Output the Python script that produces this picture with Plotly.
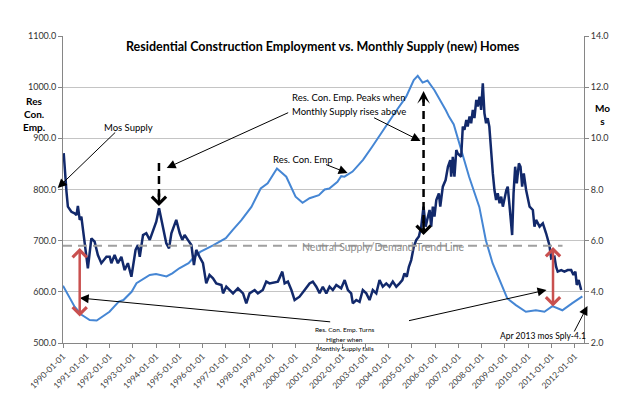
import plotly.graph_objects as go
import pandas as pd

# ---------------- data ----------------
emp_years = [1990.0, 1990.5, 1990.8, 1991.15, 1991.45, 1991.66, 1992.0, 1992.4, 1992.6, 1992.95,
             1993.16, 1993.73, 1994.0, 1994.45, 1994.7, 1995.0, 1995.4, 1995.6, 1995.9, 1996.45,
             1997.0, 1997.3, 1997.67, 1998.1, 1998.5, 1998.8, 1999.2, 1999.6, 2000.0, 2000.3,
             2000.6, 2001.0, 2001.25, 2001.45, 2001.8, 2001.96, 2002.1, 2002.45, 2002.9, 2003.3,
             2003.9, 2004.3, 2004.75, 2005.08, 2005.25, 2005.46, 2005.67, 2005.97, 2006.46, 2006.6,
             2006.8, 2007.0, 2007.46, 2007.9, 2008.18, 2008.47, 2008.76, 2009.1, 2009.47, 2009.9,
             2010.33, 2010.7, 2011.04, 2011.47, 2011.9, 2012.33]
emp_values = [612, 571, 555, 545, 544, 551, 561, 581, 584, 600,
              617, 633, 635, 630, 636, 646, 656, 666, 678, 691,
              705, 721, 740, 766, 802, 812, 841, 825, 786, 774,
              783, 789, 800, 802, 815, 826, 825, 835, 858, 884,
              926, 952, 981, 1014, 1022, 1009, 1013, 994, 955, 942,
              927, 897, 825, 766, 701, 656, 623, 587, 574, 561,
              564, 561, 572, 564, 578, 591]

mos_years = [1990.03, 1990.07, 1990.15, 1990.21, 1990.36, 1990.50, 1990.58, 1990.64, 1990.72, 1990.79,
             1990.93, 1991.07, 1991.22, 1991.36, 1991.50, 1991.65, 1991.87, 1992.01, 1992.08, 1992.22,
             1992.36, 1992.51, 1992.65, 1992.79, 1992.94, 1993.04, 1993.12, 1993.22, 1993.30, 1993.44,
             1993.58, 1993.73, 1993.87, 1994.01, 1994.13, 1994.30, 1994.44, 1994.56, 1994.66, 1994.87,
             1995.02, 1995.13, 1995.23, 1995.37, 1995.52, 1995.63, 1995.73, 1995.87, 1996.02, 1996.16,
             1996.30, 1996.45, 1996.59, 1996.81, 1996.88, 1997.02, 1997.16, 1997.31, 1997.52, 1997.74,
             1997.88, 1998.02, 1998.24, 1998.38, 1998.59, 1998.74, 1998.88, 1999.24, 1999.43, 1999.53,
             1999.67, 1999.82, 1999.96, 2000.17, 2000.39, 2000.60, 2000.74, 2000.89, 2001.03, 2001.17,
             2001.32, 2001.46, 2001.60, 2001.75, 2001.96, 2002.11, 2002.25, 2002.39, 2002.46, 2002.61,
             2002.75, 2002.89, 2003.04, 2003.18, 2003.32, 2003.47, 2003.61, 2003.75, 2003.90, 2004.04,
             2004.18, 2004.33, 2004.47, 2004.59, 2004.68, 2004.78, 2004.87, 2004.97, 2005.08, 2005.19,
             2005.30, 2005.40, 2005.50, 2005.59, 2005.69, 2005.76, 2005.83, 2005.90, 2005.97, 2006.05,
             2006.16, 2006.22, 2006.33, 2006.45, 2006.55, 2006.65, 2006.69, 2006.76, 2006.83, 2006.91,
             2006.97, 2007.12, 2007.19, 2007.26, 2007.34, 2007.40, 2007.48, 2007.55, 2007.62, 2007.69,
             2007.77, 2007.83, 2007.91, 2007.98, 2008.05, 2008.12, 2008.19, 2008.26, 2008.33, 2008.40,
             2008.48, 2008.55, 2008.62, 2008.69, 2008.77, 2008.84, 2008.91, 2009.06, 2009.12, 2009.20,
             2009.31, 2009.37, 2009.44, 2009.51, 2009.60, 2009.67, 2009.74, 2009.81, 2009.91, 2010.06,
             2010.20, 2010.27, 2010.34, 2010.49, 2010.63, 2010.77, 2010.91, 2010.99, 2011.13, 2011.20,
             2011.27, 2011.42, 2011.56, 2011.70, 2011.85, 2011.95, 2012.03, 2012.09, 2012.17, 2012.28]
mos_values = [9.42, 8.76, 7.91, 7.33, 7.13, 7.07, 7.00, 7.36, 6.81, 6.94,
              5.96, 4.92, 6.09, 5.96, 5.44, 5.12, 5.37, 5.37, 5.12, 5.44,
              5.12, 5.37, 4.85, 5.12, 4.59, 5.18, 5.64, 5.83, 5.37, 6.22,
              6.29, 6.03, 6.42, 6.74, 7.27, 6.55, 5.90, 5.70, 6.29, 6.81,
              6.29, 6.03, 6.22, 6.03, 5.83, 5.05, 5.64, 5.37, 5.12, 4.33,
              4.66, 4.53, 4.33, 4.27, 3.94, 4.20, 4.07, 3.94, 4.14, 3.94,
              3.55, 3.94, 4.07, 3.94, 4.07, 4.40, 4.33, 4.40, 4.79, 4.33,
              4.40, 4.07, 3.68, 3.81, 4.07, 4.33, 4.40, 4.20, 3.95, 4.20,
              3.94, 4.20, 4.07, 4.27, 4.14, 4.46, 4.07, 3.94, 3.55, 3.68,
              3.61, 4.07, 3.94, 3.68, 4.07, 3.94, 4.46, 4.20, 4.33, 4.20,
              4.40, 4.20, 4.33, 4.46, 4.72, 4.59, 4.98, 5.24, 5.76, 6.03,
              6.16, 6.55, 7.33, 6.55, 6.94, 7.20, 6.55, 7.33, 6.94, 7.59,
              7.85, 7.33, 8.11, 8.37, 8.89, 9.15, 8.50, 9.28, 8.50, 9.54,
              9.41, 9.28, 10.46, 10.33, 10.72, 10.46, 10.85, 10.59, 11.11, 10.79,
              11.50, 11.24, 11.63, 11.11, 12.15, 10.98, 10.59, 10.79, 10.46, 9.41,
              8.63, 7.98, 7.59, 7.85, 7.46, 7.72, 7.33, 7.98, 8.11, 7.33,
              6.22, 7.85, 8.89, 8.24, 9.02, 8.89, 8.11, 8.63, 7.98, 7.33,
              7.20, 6.55, 6.81, 6.55, 6.68, 6.29, 5.83, 5.31, 5.37, 4.98,
              4.79, 4.85, 4.79, 4.85, 4.85, 4.66, 4.79, 4.27, 4.46, 4.07]

neutral_supply = 5.8
x_tick_start = "1990-01-01"
x_range_years = [1990.0, 2012.40]
emp_range = [500, 1100]
mos_range = [2, 14]

title_text = "Residential Construction Employment vs. Monthly Supply (new) Homes"


def to_date(y):
    yr = int(y)
    frac = y - yr
    start = pd.Timestamp(yr, 1, 1)
    end = pd.Timestamp(yr + 1, 1, 1)
    return start + (end - start) * frac


emp_dates = [to_date(v) for v in emp_years]
mos_dates = [to_date(v) for v in mos_years]

NAVY = "#12296b"
LBLUE = "#4586d4"
RED = "#c9504f"
FONT = "Lato"

fig = go.Figure()
fig.add_trace(go.Scatter(x=emp_dates, y=emp_values, mode="lines", name="Res. Con. Emp",
                         line=dict(color=LBLUE, width=2), yaxis="y"))
fig.add_trace(go.Scatter(x=mos_dates, y=mos_values, mode="lines", name="Mos Supply",
                         line=dict(color=NAVY, width=2.5), yaxis="y2"))

# pixel helpers for the plot area (page pixels)
X0, X1, Y0, Y1 = 63.3, 584.5, 343.0, 36.0
BODY = 8  # default page body margin


def px(x):
    return (x - X0) / (X1 - X0)


def py(y):
    return (Y0 - y) / (Y0 - Y1)


ann = []


def text(x, y, s, size=10, color="#000000", bold=False):
    ann.append(dict(x=px(x), y=py(y), xref="paper", yref="paper", text=("<b>%s</b>" % s) if bold else s,
                    showarrow=False, xanchor="center", yanchor="middle",
                    font=dict(family=FONT, size=size, color=color)))


def arrow(xt, yt, xh, yh, color="#000000", width=1, head=2, size=1.0, both=False, shead=None):
    d = dict(x=px(xh), y=py(yh), xref="paper", yref="paper", ax=xt - xh, ay=yt - yh,
             axref="pixel", ayref="pixel", text="", showarrow=True, arrowhead=head,
             arrowsize=size, arrowwidth=width, arrowcolor=color, standoff=0, startstandoff=0,
             arrowside="end+start" if both else "end")
    if both:
        d["startarrowhead"] = shead if shead is not None else head
        d["startarrowsize"] = size
    ann.append(d)


# title & axis titles
text(323, 46, title_text, size=12.5, bold=True)
ann.append(dict(x=px(34), y=py(114), xref="paper", yref="paper", text="<b>Res<br>Con.<br>Emp.</b>",
                showarrow=False, xanchor="center", yanchor="middle",
                font=dict(family=FONT, size=10, color="#000")))
ann.append(dict(x=px(603), y=py(114), xref="paper", yref="paper", text="<b>Mo<br>s</b>",
                showarrow=False, xanchor="center", yanchor="middle",
                font=dict(family=FONT, size=10, color="#000")))

# callouts
text(129, 127, "Mos Supply", size=9.5)
arrow(117, 131, 58, 188, size=1.8)

text(349, 97, "Res. Con. Emp. Peaks when", size=9.5)
text(349, 111, "Monthly Supply rises above", size=9.5)
arrow(290, 112, 167, 168, size=1.8)
arrow(373, 117, 421, 141, size=1.8)

text(303, 159, "Res. Con. Emp", size=9.5)
arrow(325, 164, 348, 173, size=1.8)

text(383, 247, "Neutral Supply/Demand Trend Line", size=10.5, color="#8c8c8c")

text(345, 329, "Res. Con. Emp. Turns", size=6.5)
text(345, 339, "Higher when", size=6.5)
text(345, 348, "Monthly Supply fails", size=6.5)
arrow(332, 322, 80, 298, size=1.8)
arrow(408, 321, 547, 290, size=1.8)

text(543, 336, "Apr 2013 mos Sply-4.1", size=8.5)
arrow(574, 333, 588, 306, size=1.8)

# red double arrows
arrow(80, 318, 80, 248, color=RED, width=2.5, head=4, size=1.1, both=True)
arrow(553.5, 308, 553.5, 247, color=RED, width=2.5, head=4, size=1.1, both=True)

# black dashed arrows heads
arrow(159.3, 192, 159.3, 206, width=2.5, head=4, size=1.1)
arrow(424, 220, 424, 235, width=2.5, head=4, size=1.1)
arrow(424, 104, 424, 91, width=2.5, head=3, size=0.85)

shapes = [
    dict(type="line", xref="paper", yref="y2", x0=0, x1=px(563), y0=neutral_supply, y1=neutral_supply,
         line=dict(color="#a0a0a0", width=2, dash="9px,6px"), layer="above"),
    dict(type="line", xref="paper", yref="paper", x0=px(159.3), x1=px(159.3), y0=py(163), y1=py(200),
         line=dict(color="#000000", width=2.5, dash="8px,5px")),
    dict(type="line", xref="paper", yref="paper", x0=px(424), x1=px(424), y0=py(98), y1=py(230),
         line=dict(color="#000000", width=2.5, dash="8px,5px")),
]

fig.update_layout(
    width=624 - BODY, height=397 - BODY,
    margin=dict(l=X0 - BODY, r=624 - X1, t=Y1 - BODY, b=397 - Y0, pad=0, autoexpand=False),
    paper_bgcolor="white", plot_bgcolor="white",
    showlegend=False,
    font=dict(family=FONT, size=9, color="#333333"),
    xaxis=dict(type="date", range=[to_date(x_range_years[0]), to_date(x_range_years[1])],
               tick0=x_tick_start, dtick="M12", tickformat="%Y-%m-%d", tickangle=-45,
               ticks="outside", ticklen=4, tickcolor="#868686", showgrid=False,
               showline=True, linecolor="#868686", linewidth=1, zeroline=False, automargin=False,
               tickfont=dict(family=FONT, size=8.5, color="#404040")),
    yaxis=dict(range=emp_range, dtick=100, tickformat=".1f", showgrid=True, gridcolor="#c4c4c4",
               gridwidth=1, showline=True, linecolor="#868686", ticks="outside", ticklen=4,
               tickcolor="#868686", zeroline=False, automargin=False,
               tickfont=dict(family=FONT, size=9, color="#333333")),
    yaxis2=dict(range=mos_range, dtick=2, tickformat=".1f", overlaying="y", side="right",
                showgrid=False, showline=True, linecolor="#868686", ticks="outside", ticklen=4,
                tickcolor="#868686", zeroline=False, automargin=False,
                tickfont=dict(family=FONT, size=9, color="#333333")),
    annotations=ann,
    shapes=shapes,
)

fig.write_html("out.html")
